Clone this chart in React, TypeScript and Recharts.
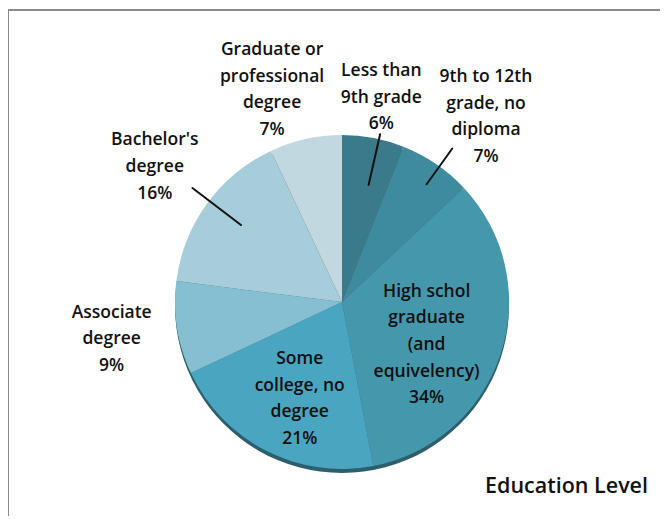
import React from "react";
import { PieChart, Pie, Cell } from "recharts";

const categories = [
  "Less than\n9th grade",
  "9th to 12th\ngrade, no\ndiploma",
  "High schol\ngraduate\n(and\nequivelency)",
  "Some\ncollege, no\ndegree",
  "Associate\ndegree",
  "Bachelor's\ndegree",
  "Graduate or\nprofessional\ndegree",
];
const percents = [6, 7, 34, 21, 9, 16, 7];
const colors = ["#3B7A8B", "#3F8B9E", "#4597AC", "#4AA5C0", "#86BFD1", "#A7CCDA", "#C1D8E1"];

// label layout: radius from centre and clockwise angle shift (deg)
const labelRadius = [210, 236, 94, 104, 233, 232, 225];
const labelShift = [0, 3.4, 7.8, -3, 0.3, 0.2, -5.5];
// hand-drawn leader lines: [inner radius, outer radius, clockwise shift]
const leaders: (number[] | null)[] = [[120, 172, 2], [145, 189, 1.5], null, null, null, [127, 188, 1.3], null];

const data = categories.map((name, i) => ({ name, value: percents[i] }));

const CX = 334;
const CY = 294;
const R = 167;
const RAD = Math.PI / 180;
const LINE_H = 26.7;

const renderLabel = (props: any) => {
  const { midAngle, index, percent } = props;
  const ang = midAngle - labelShift[index];
  const r = labelRadius[index];
  const x = CX + r * Math.cos(-ang * RAD);
  const y = CY + r * Math.sin(-ang * RAD);
  const lines = [...categories[index].split("\n"), `${Math.round(percent * 100)}%`];
  const y0 = y - ((lines.length - 1) * LINE_H) / 2;
  const ld = leaders[index];
  let leader = null;
  if (ld) {
    const a = midAngle - ld[2];
    const x1 = CX + ld[0] * Math.cos(-a * RAD);
    const y1 = CY + ld[0] * Math.sin(-a * RAD);
    const x2 = CX + ld[1] * Math.cos(-a * RAD);
    const y2 = CY + ld[1] * Math.sin(-a * RAD);
    leader = <line x1={x1} y1={y1} x2={x2} y2={y2} stroke="#111" strokeWidth={2} strokeLinecap="round" />;
  }
  return (
    <g key={`lbl-${index}`}>
      {leader}
      <text
        x={x}
        y={y0}
        textAnchor="middle"
        dominantBaseline="central"
        fontFamily="'Open Sans', sans-serif"
        fontWeight={600}
        fontSize={17.5}
        fill="#111"
      >
        {lines.map((l, k) => (
          <tspan key={k} x={x} y={y0 + k * LINE_H}>
            {l}
          </tspan>
        ))}
      </text>
    </g>
  );
};

export default function App() {
  return (
    <div style={{ position: "relative", width: 660, height: 511, background: "#fff" }}>
      <div
        style={{
          position: "absolute",
          left: -1,
          top: 1,
          width: 670,
          height: 507,
          borderTop: "2px solid #8a8a8a",
          borderLeft: "2px solid #8a8a8a",
          boxSizing: "border-box",
        }}
      />
      <div style={{ position: "absolute", left: 0, top: 0 }}>
        <PieChart width={660} height={511} margin={{ top: 0, right: 0, bottom: 0, left: 0 }}>
          <Pie
            data={[{ name: "shadow", value: 1 }]}
            dataKey="value"
            cx={CX}
            cy={CY + 4}
            outerRadius={R}
            startAngle={90}
            endAngle={-270}
            fill="#2C5E6C"
            stroke="none"
            isAnimationActive={false}
          />
          <Pie
            data={data}
            dataKey="value"
            cx={CX}
            cy={CY}
            outerRadius={R}
            startAngle={90}
            endAngle={-270}
            stroke="none"
            label={renderLabel}
            labelLine={false}
            isAnimationActive={false}
          >
            {data.map((d, i) => (
              <Cell key={d.name} fill={colors[i]} />
            ))}
          </Pie>
          <text
            x={640}
            y={485}
            textAnchor="end"
            fontFamily="'Open Sans', sans-serif"
            fontWeight={600}
            fontSize={21.5}
            fill="#111"
          >
            Education Level
          </text>
        </PieChart>
      </div>
    </div>
  );
}
